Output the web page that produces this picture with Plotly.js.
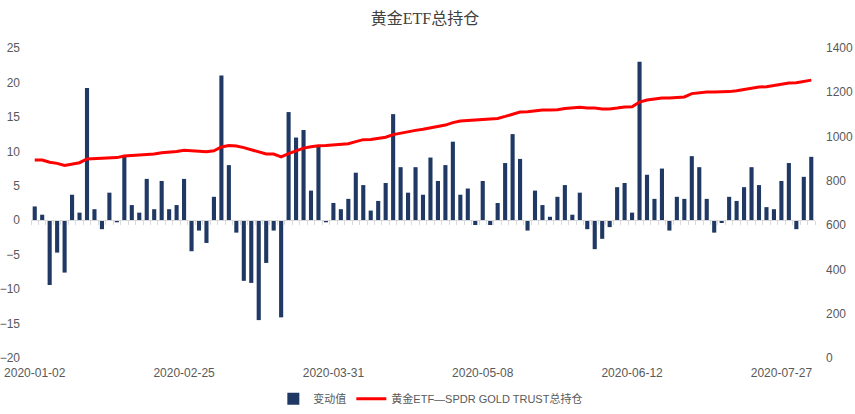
<!DOCTYPE html>
<html>
<head>
<meta charset="utf-8">
<script src="https://cdn.plot.ly/plotly-3.0.1.min.js"></script>
<style>html,body{margin:0;padding:0;background:#fff;}#chart{width:855px;height:414px;}</style>
</head>
<body>
<div id="chart"></div>
<script>
// category index (trading-day order) and the dates shown on the axis
const tickIndex = [0, 20, 40, 60, 80, 100];
const tickLabels = ["2020-01-02", "2020-02-25", "2020-03-31", "2020-05-08", "2020-06-12", "2020-07-27"];

// 变动值 (daily change, tonnes)
const changeValues = [
  2.0, 0.8, -9.4, -4.7, -7.6, 3.7, 1.1, 19.2, 1.6, -1.3,
  4.0, -0.3, 9.3, 2.2, 1.1, 6.0, 1.6, 5.7, 1.6, 2.2,
  6.0, -4.5, -1.5, -3.3, 3.4, 21.0, 8.0, -1.8, -8.8, -9.1,
  -14.5, -6.2, -1.5, -14.1, 15.7, 12.0, 13.1, 4.3, 10.8, -0.3,
  2.5, 1.6, 3.1, 6.9, 5.1, 1.4, 2.8, 5.4, 15.4, 7.7,
  4.0, 7.7, 3.7, 9.1, 5.7, 8.0, 11.4, 3.7, 4.6, -0.7,
  5.7, -0.7, 2.5, 8.3, 12.5, 8.9, -1.5, 4.3, 2.2, 0.5,
  3.4, 5.1, 0.8, 4.0, -1.3, -4.2, -2.7, -1.0, 4.8, 5.4,
  1.1, 23.0, 6.6, 3.1, 7.5, -1.5, 3.4, 3.1, 9.3, 7.7,
  3.1, -1.8, -0.4, 3.4, 2.8, 4.8, 7.7, 5.1, 1.9, 1.6,
  5.7, 8.3, -1.3, 6.3, 9.2
];

// 黄金ETF—SPDR GOLD TRUST总持仓 (total holdings, tonnes)
const holdingValues = [
  894, 894, 884, 879, 870, 876, 882, 899, 900, 900,
  903, 905, 912, 914, 917, 920, 921, 927, 929, 933,
  938, 935, 935, 932, 936, 953, 960, 957, 950, 941,
  930, 921, 921, 908, 923, 935, 948, 954, 959, 960,
  962, 963, 968, 977, 986, 987, 991, 997, 1009, 1016,
  1021, 1028, 1033, 1040, 1045, 1052, 1063, 1070, 1073, 1076,
  1078, 1079, 1082, 1091, 1100, 1111, 1112, 1117, 1120, 1120,
  1121, 1127, 1129, 1132, 1129, 1129, 1125, 1125, 1129, 1134,
  1135, 1156, 1165, 1171, 1174, 1174, 1177, 1179, 1194, 1198,
  1201, 1201, 1201, 1203, 1207, 1212, 1219, 1224, 1225, 1230,
  1234, 1242, 1243, 1248, 1255
];

const seriesNames = ["变动值", "黄金ETF—SPDR GOLD TRUST总持仓"];
const chartTitle = "黄金ETF总持仓";

const xIdx = changeValues.map((_, i) => i);
const n = changeValues.length;
const xRange = [-0.5, n - 0.5];

const gray = "#595959";
const tickFont = {family: "Liberation Sans, Noto Sans CJK SC, sans-serif", size: 12, color: gray};

const traces = [
  {
    type: "bar", x: xIdx, y: changeValues, name: seriesNames[0],
    marker: {color: "#1F3864"}, yaxis: "y", xaxis: "x", hoverinfo: "y"
  },
  {
    type: "scatter", mode: "lines", x: xIdx, y: holdingValues, name: seriesNames[1],
    line: {color: "#FF0000", width: 3}, yaxis: "y2", xaxis: "x", hoverinfo: "y"
  }
];

// zero position within plot (left axis -20..25)
const zeroFrac = (0 - (-20)) / (25 - (-20));

const layout = {
  width: 855, height: 414,
  margin: {l: 31, r: 40, t: 48, b: 56, autoexpand: false},
  paper_bgcolor: "#fff", plot_bgcolor: "#fff",
  bargap: 0.45,
  showlegend: true,
  title: {
    text: chartTitle, x: 0.497, xanchor: "center", y: 0.955, yanchor: "middle",
    font: {family: "Liberation Serif, Noto Sans CJK SC, serif", size: 16, color: "#404040"}
  },
  legend: {
    orientation: "h", x: 0.51, xanchor: "center", y: -0.085, yanchor: "top",
    font: {family: "Liberation Sans, Noto Sans CJK SC, sans-serif", size: 11, color: gray},
    itemwidth: 30, traceorder: "normal"
  },
  xaxis: {
    range: xRange, tickmode: "array", tickvals: tickIndex, ticktext: tickLabels,
    showgrid: false, zeroline: false, showline: false, ticks: "",
    tickfont: tickFont, ticklabelstandoff: 6, fixedrange: true, automargin: false
  },
  xaxis2: {
    overlaying: "x", anchor: "free", position: zeroFrac, range: xRange,
    tickmode: "linear", tick0: -0.5, dtick: 1, ticks: "outside", ticklen: 4,
    tickcolor: "#D9D9D9", showline: true, linecolor: "#D9D9D9", linewidth: 1,
    showticklabels: false, showgrid: false, zeroline: false
  },
  yaxis: {
    range: [-20, 25], tickmode: "array", tickvals: [-20, -15, -10, -5, 0, 5, 10, 15, 20, 25],
    showgrid: false, zeroline: false, showline: false, ticks: "",
    tickfont: tickFont, ticklabelstandoff: 10, automargin: false
  },
  yaxis2: {
    range: [0, 1400], overlaying: "y", side: "right", anchor: "x",
    tickmode: "array", tickvals: [0, 200, 400, 600, 800, 1000, 1200, 1400],
    showgrid: false, zeroline: false, showline: false, ticks: "",
    tickfont: tickFont, ticklabelstandoff: 10, automargin: false
  }
};

// dummy trace to activate xaxis2 (no visible marks)
traces.push({type: "scatter", x: [], y: [], xaxis: "x2", yaxis: "y", showlegend: false, hoverinfo: "skip"});

Plotly.newPlot("chart", traces, layout, {displayModeBar: false, staticPlot: true});
</script>
</body>
</html>
